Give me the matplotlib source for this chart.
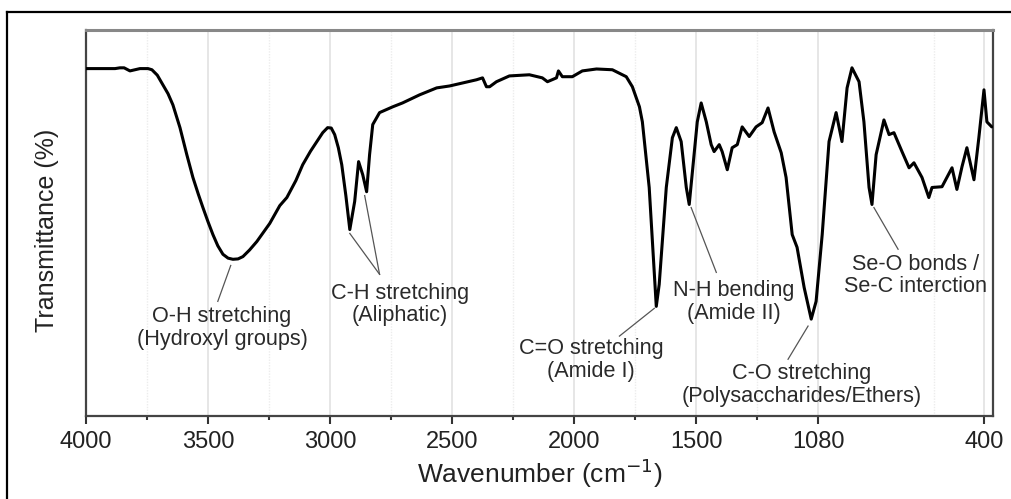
import numpy as np
import matplotlib
matplotlib.use("Agg")
import matplotlib.pyplot as plt
from matplotlib.lines import Line2D

plt.rcParams['font.family'] = ['Liberation Sans', 'DejaVu Sans']

# FTIR spectrum (axis units)
wavenumber = [4000, 3943, 3881, 3861, 3844, 3820, 3799, 3779, 3746, 3730,
              3708, 3685, 3664, 3644, 3615, 3587, 3562, 3540, 3521, 3500,
              3480, 3460, 3439, 3418, 3398, 3377, 3357, 3330, 3300, 3247,
              3206, 3177, 3140, 3112, 3080, 3054, 3030, 3010, 2995, 2981,
              2966, 2952, 2935, 2919,
              2899, 2883, 2866, 2850, 2838, 2825, 2797, 2743, 2703, 2633,
              2563, 2510, 2400, 2375, 2359, 2346, 2318, 2265, 2183, 2130,
              2109, 2072, 2064, 2048, 2007, 1966, 1908, 1843, 1786, 1761,
              1732, 1720, 1692, 1663, 1651, 1622, 1597, 1581, 1561, 1540,
              1528, 1516, 1495, 1479, 1458, 1438, 1426, 1405, 1393, 1372,
              1352, 1331, 1311, 1282, 1254, 1229, 1205, 1180, 1151, 1131,
              1119, 1106, 1086, 1057, 1028, 1008, 983, 955, 926, 902,
              881, 861, 832, 812, 791, 779, 762, 730, 709, 689,
              656, 627, 607, 574, 546, 533, 492, 451, 431, 410,
              390, 361, 341, 320, 308, 288]
transmittance = [90.0, 90.0, 90.0, 90.2, 90.2, 89.4, 89.7, 90.0, 90.0, 89.7,
                 88.3, 85.8, 83.5, 80.6, 74.7, 67.7, 61.8, 57.5, 54.0, 50.3,
                 47.0, 44.1, 41.9, 40.9, 40.6, 40.7, 41.3, 43.0, 45.2, 49.9,
                 54.5, 56.6, 61.0, 65.1, 68.6, 71.1, 73.4, 74.7, 74.6, 72.9,
                 69.5, 65.1, 57.0, 48.3,
                 55.6, 65.9, 62.5, 58.1, 67.7, 75.5, 78.6, 80.1, 81.1, 83.2,
                 85.0, 85.5, 87.1, 87.6, 85.3, 85.3, 86.6, 88.1, 88.4, 87.6,
                 86.6, 87.6, 89.4, 87.9, 87.9, 89.4, 89.9, 89.7, 87.9, 85.3,
                 80.1, 76.2, 59.2, 28.4, 34.1, 59.2, 72.1, 74.7, 71.1, 59.2,
                 54.8, 62.5, 76.2, 81.1, 76.2, 70.3, 68.5, 70.3, 68.5, 63.8,
                 69.5, 70.3, 74.9, 72.4, 74.9, 76.0, 79.8, 73.6, 68.2, 61.8,
                 54.8, 47.0, 43.7, 33.3, 25.1, 29.7, 47.0, 71.1, 78.6, 71.1,
                 85.0, 90.2, 86.6, 76.2, 59.2, 54.8, 67.7, 76.7, 72.9, 73.4,
                 68.5, 64.3, 65.6, 61.8, 56.6, 59.2, 59.4, 64.3, 58.7, 64.6,
                 69.5, 61.2, 72.1, 84.5, 76.2, 74.9]

tick_pos = [4000, 3500, 3000, 2500, 2000, 1500, 1000, 320]
tick_labels = ['4000', '3500', '3000', '2500', '2000', '1500', '1080', '400']
minor_pos = [3750, 3250, 2750, 2250, 1750, 1250]

# label text, text centre, leader line(s) as (start, end)
labels = [
    ("O-H stretching\n(Hydroxyl groups)", (3443, 22.8), [((3407, 39.0), (3460, 29.7))]),
    ("C-H stretching\n(Aliphatic)", (2715, 28.9), [((2919, 47.3), (2797, 36.7)),
                                                    ((2858, 57.1), (2797, 36.7))]),
    ("C=O stretching\n(Amide I)", (1929, 14.5), [((1671, 27.9), (1814, 20.7))]),
    ("N-H bending\n(Amide II)", (1344, 29.5), [((1520, 54.0), (1417, 37.2))]),
    ("C-O stretching\n(Polysaccharides/Ethers)", (1069, 8.0), [((1041, 23.3), (1123, 14.7))]),
    ("Se-O bonds /\nSe-C interction", (599, 36.4), [((771, 54.0), (672, 43.2))]),
]

fig = plt.figure(figsize=(10.11, 4.99), dpi=100)
ax = fig.add_axes([0.0851, 0.1663, 0.8971, 0.7736])

for x in tick_pos:
    ax.axvline(x, color='#e2e2e2', lw=1.2, zorder=0)
for x in minor_pos + [525]:
    ax.axvline(x, color='#ececec', lw=1.0, ls=(0, (1, 1)), zorder=0)

ax.plot(wavenumber, transmittance, color='black', lw=2.2, zorder=3,
        solid_joinstyle='round', solid_capstyle='round')

for text, (tx, ty), leaders in labels:
    ax.text(tx, ty, text, ha='center', va='center', fontsize=15.6,
            color='#2a2a2a', linespacing=1.1, zorder=4)
    for (x0, y0), (x1, y1) in leaders:
        ax.plot([x0, x1], [y0, y1], color='#555555', lw=0.9, zorder=2)

ax.set_xlim(4000, 283)
ax.set_ylim(0, 100)
ax.set_xticks(tick_pos)
ax.set_xticklabels(tick_labels)
ax.set_xticks(minor_pos, minor=True)
ax.set_yticks([])
ax.tick_params(axis='x', which='major', length=6, width=1.5, labelsize=17,
               color='#333333', labelcolor='#222222', pad=5)
ax.tick_params(axis='x', which='minor', length=3, width=1.5, color='#333333')

for side in ['left', 'bottom', 'right']:
    ax.spines[side].set_color('#444444')
    ax.spines[side].set_linewidth(1.6)
ax.spines['top'].set_color('#888888')
ax.spines['top'].set_linewidth(2.2)

ax.set_xlabel('Wavenumber (cm$^{-1}$)', fontsize=19, color='#222222', labelpad=2)
ax.set_ylabel('Transmittance (%)', fontsize=18, color='#222222')
ax.yaxis.set_label_coords(-0.030, 0.48)

# outer frame (left and top edges of the image)
fig.add_artist(Line2D([0.007, 0.007], [0.0, 0.976], transform=fig.transFigure,
                      color='black', lw=1.6))
fig.add_artist(Line2D([0.007, 1.0], [0.976, 0.976], transform=fig.transFigure,
                      color='black', lw=1.6))

fig.savefig('out.png', dpi=100)
